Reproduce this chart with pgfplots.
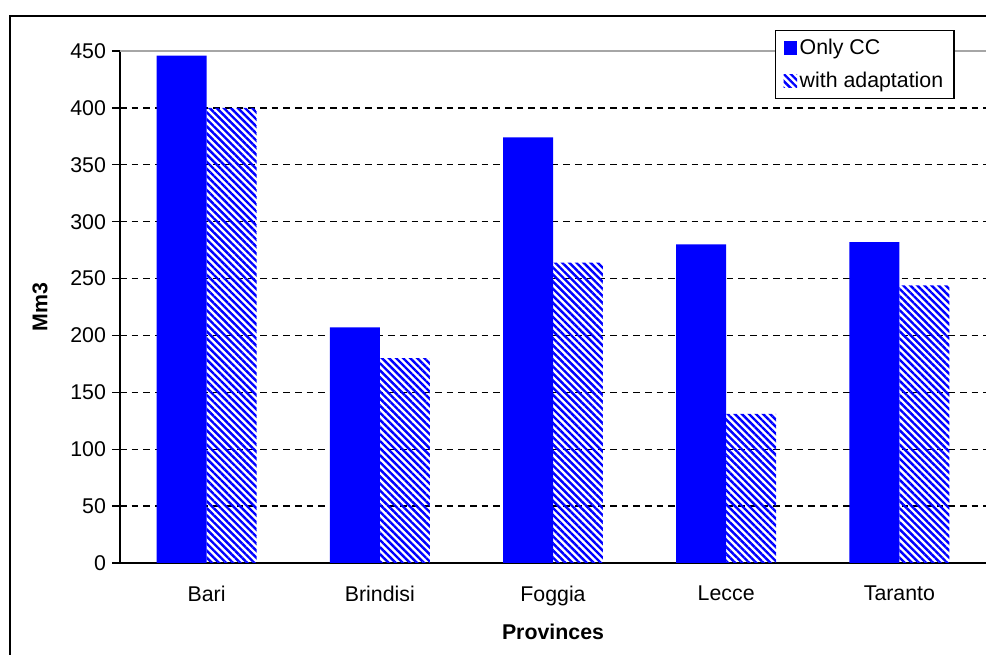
\documentclass[border=0pt]{standalone}
\usepackage{fontspec}
\setmainfont{Liberation Sans}
\usepackage{pgfplots}
\pgfplotsset{compat=1.18}
\usetikzlibrary{patterns.meta}
\begin{document}
\begin{tikzpicture}
\useasboundingbox (0pt,0pt) rectangle (739.5pt,491.25pt);
\fill[white] (0pt,0pt) rectangle (739.5pt,491.25pt);
\draw[line width=1.5pt] (7.5pt,-20pt) -- (7.5pt,479.25pt) -- (760pt,479.25pt);
\begin{axis}[
  at={(90pt,69pt)}, anchor=south west,
  scale only axis,
  width=649.5pt, height=384pt,
  xmin=-0.5, xmax=4.5, ymin=0, ymax=450,
  ytick={0,50,...,450},
  xtick={0,1,2,3,4},
  xticklabels={Bari,Brindisi,Foggia,Lecce,Taranto},
  major x tick style={draw=none},
  extra x ticks={-0.5,0.5,1.5,2.5,3.5,4.5},
  extra x tick labels={},
  extra x tick style={grid=none, major tick style={black, draw=black, line width=1pt}},
  axis x line*=bottom, axis y line*=left,
  axis line style={-, black, line width=1pt},
  tick align=outside,
  major tick length=6pt,
  tick style={black, line width=1pt},
  ymajorgrids,
  major grid style={black, line width=1pt, dash pattern=on 5pt off 3.75pt},
  /pgf/number format/assume math mode=true,
  tick label style={font=\fontsize{16}{19}\selectfont},
  yticklabel style={xshift=-1pt},
  xticklabel style={yshift=-7.5pt},
  ylabel={Mm3}, xlabel={Provinces},
  label style={font=\fontsize{16}{19}\selectfont\bfseries},
  ylabel style={at={(axis description cs:-0.0924,0.5)}, anchor=center},
  xlabel style={at={(axis description cs:0.5,-0.1348)}, anchor=center},
  ybar, bar width=0.2887,
  legend image code/.code={\fill[#1] (0pt,-5pt) rectangle (10pt,5pt);},
  legend style={at={(rel axis cs:0.7564,1.041)}, anchor=north west,
    draw=black, line width=1pt, fill=white,
    font=\fontsize{16}{19}\selectfont, row sep=7.5pt,
    inner xsep=6pt, inner ysep=4.5pt},
  legend cell align=left,
]
\addplot[bar shift=-0.1443, fill=blue, draw=none] coordinates {
  (0,446) (1,207) (2,374) (3,280) (4,282)};
\addlegendentry{Only CC}
\addplot[bar shift=0.1443, draw=none,
  pattern={Lines[angle=-45,distance=3.75pt,line width=1.8pt]}, pattern color=blue] coordinates {
  (0,400) (1,180) (2,264) (3,131) (4,244)};
\addlegendentry{with adaptation}
\draw[gray!70, line width=1pt] (rel axis cs:0,1) -- (rel axis cs:1,1);
\end{axis}
\end{tikzpicture}
\end{document}
